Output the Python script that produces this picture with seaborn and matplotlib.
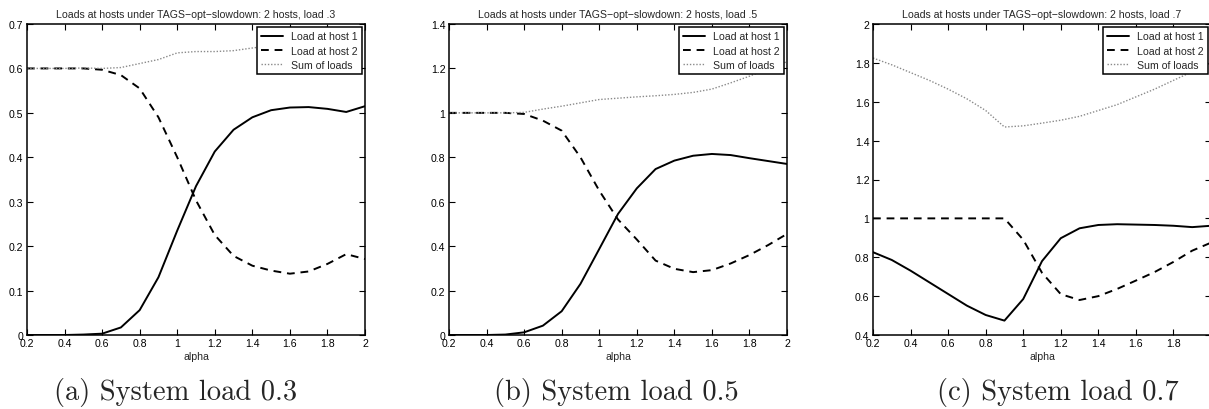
import numpy as np
import pandas as pd
import matplotlib
matplotlib.use("Agg")
import matplotlib.pyplot as plt
import seaborn as sns

alpha = [0.2, 0.3, 0.4, 0.5, 0.6, 0.7, 0.8, 0.9, 1.0, 1.1, 1.2, 1.3, 1.4, 1.5, 1.6, 1.7, 1.8, 1.9, 2.0]

host1_a = [0, 0, 0, 0.001, 0.003, 0.017, 0.056, 0.13, 0.235, 0.335, 0.413, 0.462, 0.49, 0.506, 0.512, 0.513, 0.509, 0.502, 0.515]
host2_a = [0.6, 0.6, 0.6, 0.6, 0.597, 0.585, 0.555, 0.49, 0.40, 0.303, 0.225, 0.178, 0.156, 0.145, 0.138, 0.143, 0.16, 0.182, 0.171]
sum_a = [0.6, 0.6, 0.6, 0.601, 0.600, 0.602, 0.611, 0.62, 0.635, 0.638, 0.638, 0.640, 0.646, 0.651, 0.650, 0.656, 0.669, 0.684, 0.686]

host1_b = [0, 0, 0, 0.002, 0.012, 0.042, 0.107, 0.23, 0.387, 0.545, 0.66, 0.747, 0.785, 0.807, 0.815, 0.81, 0.796, 0.783, 0.77]
host2_b = [1.0, 1.0, 1.0, 1.0, 0.995, 0.965, 0.92, 0.80, 0.65, 0.52, 0.43, 0.335, 0.298, 0.283, 0.292, 0.322, 0.36, 0.405, 0.455]
sum_b = [1.0, 1.0, 1.0, 1.0, 1.002, 1.017, 1.03, 1.045, 1.06, 1.066, 1.072, 1.077, 1.083, 1.092, 1.107, 1.135, 1.165, 1.20, 1.23]

host1_c = [0.826, 0.786, 0.731, 0.671, 0.611, 0.551, 0.503, 0.474, 0.585, 0.78, 0.898, 0.949, 0.966, 0.97, 0.968, 0.966, 0.962, 0.955, 0.962]
host2_c = [1.0, 1.0, 1.0, 1.0, 1.0, 1.0, 1.0, 1.0, 0.89, 0.72, 0.61, 0.58, 0.60, 0.637, 0.68, 0.724, 0.776, 0.834, 0.875]
sum_c = [1.825, 1.79, 1.75, 1.71, 1.665, 1.615, 1.555, 1.47, 1.476, 1.49, 1.505, 1.525, 1.555, 1.585, 1.625, 1.665, 1.71, 1.755, 1.80]

titles = ["Loads at hosts under TAGS\u2212opt\u2212slowdown: 2 hosts, load .3",
          "Loads at hosts under TAGS\u2212opt\u2212slowdown: 2 hosts, load .5",
          "Loads at hosts under TAGS\u2212opt\u2212slowdown: 2 hosts, load .7"]
captions = ["(a) System load 0.3", "(b) System load 0.5", "(c) System load 0.7"]
labels = ["Load at host 1", "Load at host 2", "Sum of loads"]
ylims = [(0, 0.7), (0, 1.4), (0.4, 2.0)]
ysteps = [0.1, 0.2, 0.2]

sns.set_style("ticks")
plt.rcParams['font.family'] = ['Liberation Sans', 'DejaVu Sans']
plt.rcParams['axes.unicode_minus'] = True

W, H = 1209, 410
fig = plt.figure(figsize=(W / 100, H / 100), dpi=100)

lefts = [27, 449, 873]
ax_w, ax_bottom, ax_h = 338, 74, 311
cap_x = [175.5, 616, 1057.5]

data = [(host1_a, host2_a, sum_a), (host1_b, host2_b, sum_b), (host1_c, host2_c, sum_c)]
fs = 7.6

for i in range(3):
    ax = fig.add_axes([lefts[i] / W, ax_bottom / H, ax_w / W, ax_h / H])
    h1, h2, s = data[i]
    sns.lineplot(x=alpha, y=h1, ax=ax, color='black', lw=1.4, label=labels[0])
    sns.lineplot(x=alpha, y=h2, ax=ax, color='black', lw=1.4, label=labels[1],
                 linestyle=(0, (4, 3)))
    sns.lineplot(x=alpha, y=s, ax=ax, color='#8a8a8a', lw=1.0, label=labels[2],
                 linestyle=(0, (1, 1.3)))
    ax.set_xlim(0.2, 2.0)
    ax.set_ylim(*ylims[i])
    ax.set_xticks(np.round(np.arange(0.2, 2.01, 0.2), 1))
    ax.set_xticklabels(['0.2', '0.4', '0.6', '0.8', '1', '1.2', '1.4', '1.6', '1.8', '2'])
    yt = np.round(np.arange(ylims[i][0], ylims[i][1] + 1e-6, ysteps[i]), 2)
    ax.set_yticks(yt)
    ax.set_yticklabels([('%g' % v) for v in yt])
    ax.tick_params(direction='in', length=4, width=0.8, labelsize=fs, pad=2.5,
                   top=True, right=True, colors='black')
    for sp in ax.spines.values():
        sp.set_visible(True)
        sp.set_linewidth(1.1)
        sp.set_color('black')
    ax.set_xlabel('alpha', fontsize=fs, labelpad=2)
    ax.set_ylabel('')
    ax.set_title(titles[i], fontsize=fs, pad=5)
    leg = ax.legend(loc='upper right', fontsize=fs, frameon=True, fancybox=False,
                    framealpha=1, edgecolor='black', borderaxespad=0.3,
                    handlelength=2.0, handletextpad=0.8, labelspacing=0.4,
                    borderpad=0.4)
    leg.get_frame().set_linewidth(1.1)
    fig.text(cap_x[i] / W, 17 / H, captions[i], ha='center', va='center',
             fontsize=20.5, family=['cmr10', 'DejaVu Serif'])

fig.savefig('out.png', dpi=100)
